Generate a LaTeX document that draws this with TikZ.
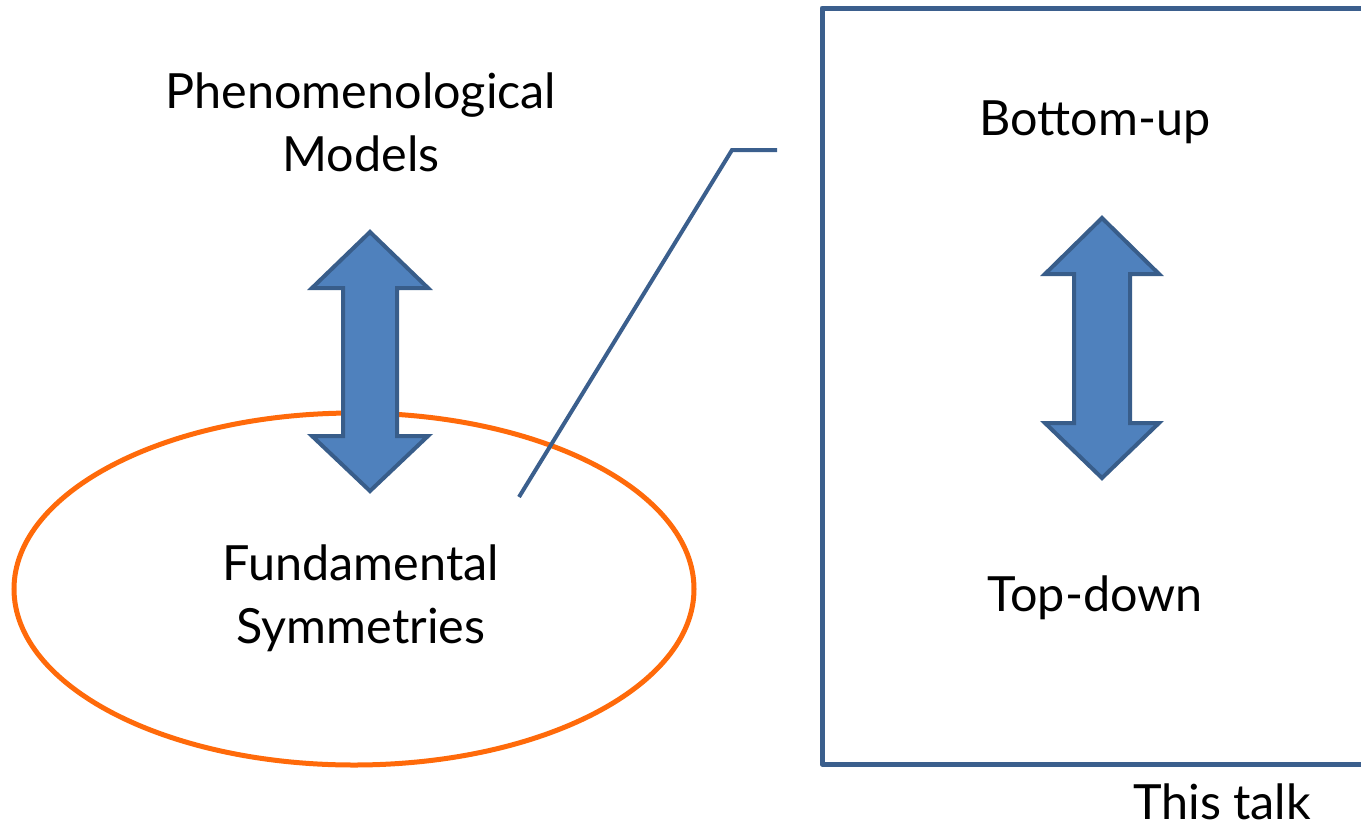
\documentclass[tikz,border=0pt]{standalone}
\usepackage{fontspec}
\setmainfont{Lato}
\definecolor{arrowfill}{HTML}{4F81BD}
\definecolor{arrowline}{HTML}{385D8A}
\definecolor{boxline}{HTML}{3B5F8D}
\definecolor{ringline}{HTML}{FF6A0A}
\tikzset{
  label/.style={font=\fontsize{48.5}{63}\selectfont, align=center, inner sep=0pt},
  dblarrow/.style={fill=arrowfill, draw=arrowline, line width=4pt, line join=miter},
  ring/.style={draw=ringline, line width=5pt},
  frame/.style={draw=boxline, line width=5pt, line join=round},
  callout/.style={draw=boxline, line width=4pt},
}
\begin{document}
\begin{tikzpicture}[x=1pt,y=-1pt]
\useasboundingbox (0,0) rectangle (1361,831);

% orange ring around the fundamental symmetries
\draw[ring] (354,589) ellipse [x radius=340, y radius=176];

% talk frame, open to the right
\draw[frame] (1370,8) -- (822,8) -- (822,764) -- (1370,764);

% callout leader from the ring to the frame
\coordinate (cA) at (519,497);
\coordinate (cB) at (732,150);
\coordinate (cC) at (777,150);
\draw[callout] (cA) -- (cB) -- (cC);

% two-headed block arrows
\draw[dblarrow] (370,232) -- (428,288) -- (397,288) -- (397,436) -- (428,436)
  -- (370,491) -- (312,436) -- (343,436) -- (343,288) -- (312,288) -- cycle;
\draw[dblarrow] (1102,218) -- (1159,274) -- (1130,274) -- (1130,423) -- (1159,423)
  -- (1102,478) -- (1045,423) -- (1074,423) -- (1074,274) -- (1045,274) -- cycle;

% labels
\node[label] (pheno) at (361,122) {Phenomenological\\Models};
\node[label] (fund) at (361,598) {Fundamental\\Symmetries};
\node[label] (bu) at (1095,122) {Bottom-up};
\node[label] (td) at (1095,598) {Top-down};
\node[label] (talk) at (1222,802) {This talk};
\end{tikzpicture}
\end{document}
